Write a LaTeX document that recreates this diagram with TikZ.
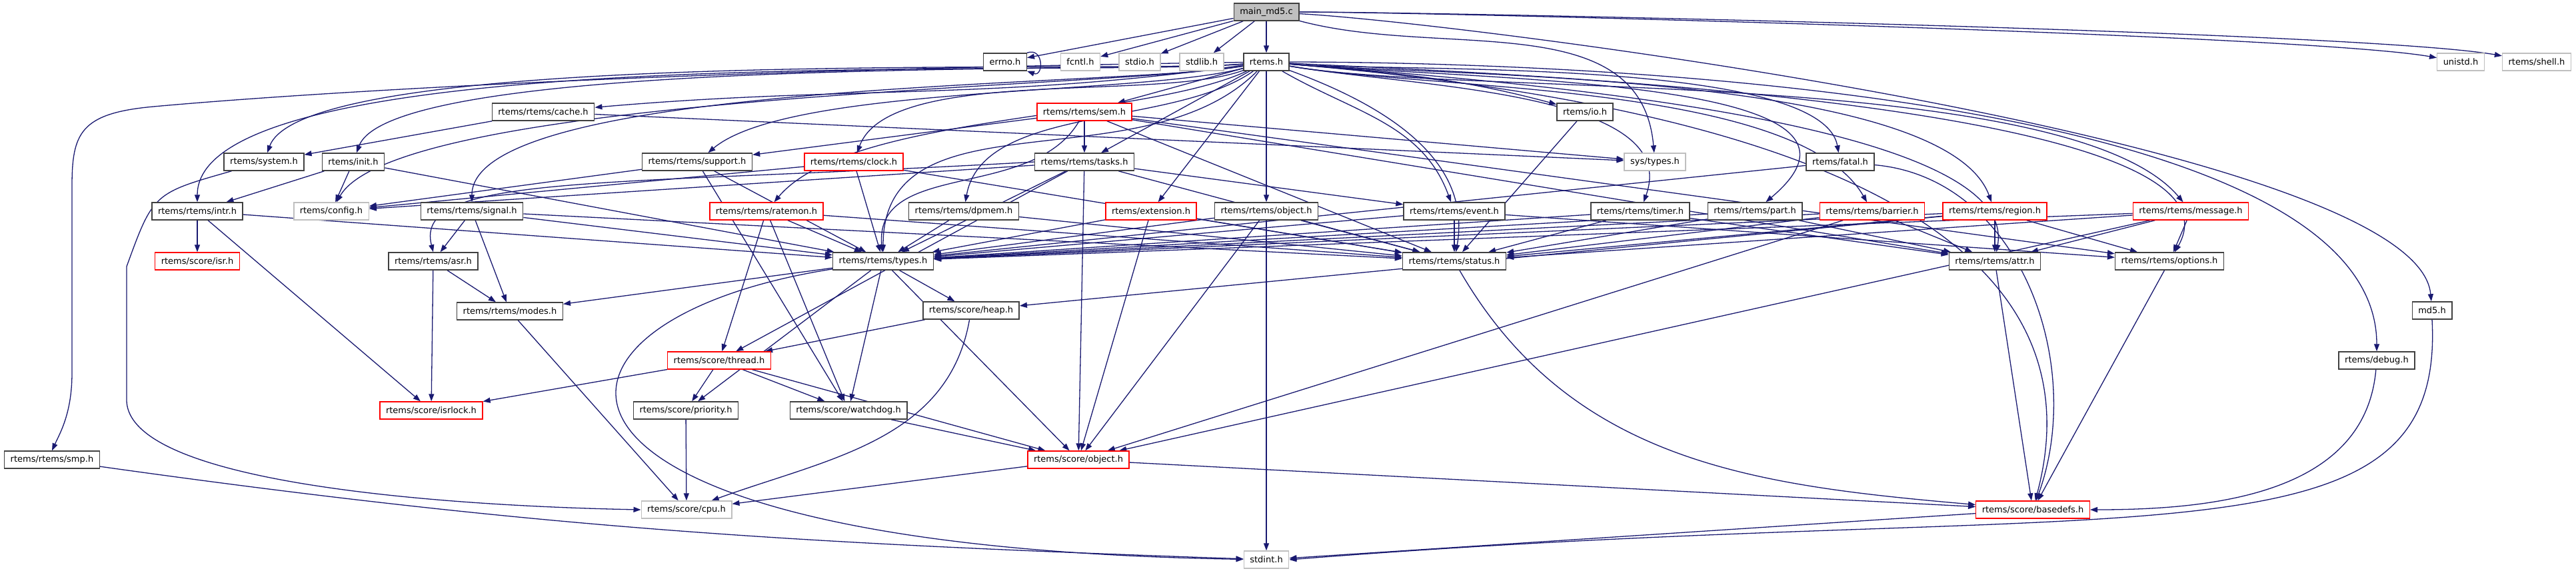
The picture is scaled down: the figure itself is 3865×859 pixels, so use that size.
\documentclass[tikz,border=0pt]{standalone}
\usepackage{fontspec}
\setmainfont{DejaVu Sans}
\usetikzlibrary{arrows.meta,positioning}
\definecolor{edgeblue}{HTML}{191970}
\pgfdeclarelayer{edges}
\pgfsetlayers{edges,main}

\begin{document}
\begin{tikzpicture}[
    x=0.2pt, y=0.2pt,
    every node/.style={rectangle, fill=white, minimum height=5.2pt, inner xsep=1.8pt, inner ysep=0.4pt, font=\fontsize{2.6}{3}\selectfont},
    hdr/.style={draw=black!75, line width=0.3pt},
    hdrred/.style={draw=red, line width=0.28pt},
    hdrgray/.style={draw=black!25, line width=0.28pt},
    hdrmain/.style={draw=black!75, fill=black!25, line width=0.3pt},
    dep/.style={draw=edgeblue, line width=0.26pt, -{Triangle[length=2.2pt,width=1.6pt]}}
]
    \useasboundingbox (0,0) rectangle (3865,-859);

    \node[hdrmain] (main) at (1900,-18) {main\_md5.c};

    \node[hdr] (errno) at (1508,-93) {errno.h};
    \node[hdrgray] (fcntl) at (1621,-93) {fcntl.h};
    \node[hdrgray] (stdio) at (1710,-93) {stdio.h};
    \node[hdrgray] (stdlib) at (1803,-93) {stdlib.h};
    \node[hdr] (rtems) at (1900,-93) {rtems.h};
    \node[hdrgray] (unistd) at (3692,-93) {unistd.h};
    \node[hdrgray] (shell) at (3806,-93) {rtems/shell.h};

    \node[hdr] (cache) at (815,-168) {rtems/rtems/cache.h};
    \node[hdrred] (sem) at (1627,-168) {rtems/rtems/sem.h};
    \node[hdr] (io) at (2378,-168) {rtems/io.h};

    \node[hdr] (system) at (396,-243) {rtems/system.h};
    \node[hdr] (init) at (530,-243) {rtems/init.h};
    \node[hdr] (support) at (1046,-243) {rtems/rtems/support.h};
    \node[hdrred] (clock) at (1281,-243) {rtems/rtems/clock.h};
    \node[hdr] (tasks) at (1627,-243) {rtems/rtems/tasks.h};
    \node[hdrgray] (systypes) at (2483,-243) {sys/types.h};
    \node[hdr] (fatal) at (2761,-243) {rtems/fatal.h};

    \node[hdr] (intr) at (296,-317) {rtems/rtems/intr.h};
    \node[hdrgray] (config) at (497,-317) {rtems/config.h};
    \node[hdr] (signal) at (708,-317) {rtems/rtems/signal.h};
    \node[hdrred] (ratemon) at (1150,-317) {rtems/rtems/ratemon.h};
    \node[hdr] (dpmem) at (1446,-317) {rtems/rtems/dpmem.h};
    \node[hdrred] (extension) at (1727,-317) {rtems/extension.h};
    \node[hdr] (object) at (1900,-317) {rtems/rtems/object.h};
    \node[hdr] (event) at (2182,-317) {rtems/rtems/event.h};
    \node[hdr] (timer) at (2461,-317) {rtems/rtems/timer.h};
    \node[hdr] (part) at (2633,-317) {rtems/rtems/part.h};
    \node[hdrred] (barrier) at (2809,-317) {rtems/rtems/barrier.h};
    \node[hdrred] (region) at (2993,-317) {rtems/rtems/region.h};
    \node[hdrred] (message) at (3287,-317) {rtems/rtems/message.h};

    \node[hdrred] (isr) at (296,-392) {rtems/score/isr.h};
    \node[hdr] (asr) at (650,-392) {rtems/rtems/asr.h};
    \node[hdr] (types) at (1325,-392) {rtems/rtems/types.h};
    \node[hdr] (status) at (2182,-392) {rtems/rtems/status.h};
    \node[hdr] (attr) at (2993,-392) {rtems/rtems/attr.h};
    \node[hdr] (options) at (3255,-392) {rtems/rtems/options.h};

    \node[hdr] (modes) at (765,-467) {rtems/rtems/modes.h};
    \node[hdr] (heap) at (1457,-466) {rtems/score/heap.h};
    \node[hdr] (md5) at (3649,-466) {md5.h};

    \node[hdrred] (thread) at (1079,-541) {rtems/score/thread.h};
    \node[hdr] (debug) at (3566,-541) {rtems/debug.h};

    \node[hdrred] (isrlock) at (647,-616) {rtems/score/isrlock.h};
    \node[hdr] (priority) at (1029,-616) {rtems/score/priority.h};
    \node[hdr] (watchdog) at (1273,-616) {rtems/score/watchdog.h};

    \node[hdr] (smp) at (78,-690) {rtems/rtems/smp.h};
    \node[hdrred] (sobject) at (1618,-690) {rtems/score/object.h};

    \node[hdrgray] (cpu) at (1030,-765) {rtems/score/cpu.h};
    \node[hdrred] (basedefs) at (3050,-765) {rtems/score/basedefs.h};

    \node[hdrgray] (stdint) at (1900,-840) {stdint.h};

    \begin{pgfonlayer}{edges}
    \foreach \hfrom/\hto in {main/errno, main/fcntl, main/stdio, main/stdlib, main/rtems,
        rtems/sem, rtems/tasks, rtems/extension, rtems/object,
        cache/system, cache/systypes, init/intr, init/config, init/types,
        intr/isr, intr/isrlock, intr/types,
        signal/asr, signal/modes, signal/types, signal/status,
        asr/modes, asr/isrlock, modes/cpu,
        support/config, support/types, support/watchdog,
        clock/config, clock/types, clock/status,
        sem/support, sem/tasks, sem/status, sem/systypes, sem/attr, sem/options,
        tasks/types, tasks/thread, tasks/sobject, tasks/event, tasks/status, tasks/config,
        ratemon/types, ratemon/thread, ratemon/watchdog, ratemon/status,
        dpmem/types, dpmem/status,
        extension/types, extension/sobject, extension/status,
        object/types, object/status, object/sobject, object/stdint,
        event/status, event/types, event/options,
        timer/status, timer/types, timer/attr,
        part/status, part/types, part/attr,
        barrier/status, barrier/types, barrier/attr, barrier/sobject,
        region/status, region/types, region/attr, region/options, region/heap,
        message/status, message/types, message/attr, message/options, message/sobject,
        fatal/types, io/status, attr/basedefs, options/basedefs,
        types/modes, types/heap, types/priority, types/watchdog, types/sobject,
        heap/thread, thread/priority, thread/watchdog, thread/sobject, thread/isrlock,
        priority/cpu, watchdog/sobject, sobject/cpu, sobject/basedefs,
        basedefs/stdint}
        \draw[dep] (\hfrom) -- (\hto);

    \foreach \hto/\hout/\hin/\hloose in {cache/188/5/1, system/185/70/0.3, init/185/70/0.3,
        intr/185/90/0.4, config/190/60/0.35, signal/190/90/0.4, support/195/40/0.5,
        clock/200/70/0.6, ratemon/205/50/0.6, dpmem/215/80/0.8, types/225/90/1,
        io/-5/165/1, fatal/-5/100/0.45, event/-30/110/1, timer/-10/70/0.8,
        part/-5/40/1, barrier/-10/120/0.6, region/-5/110/0.5, message/-10/130/0.5,
        status/-20/80/1, attr/-5/80/0.5, options/-3/60/0.5, debug/0/90/0.6,
        basedefs/-5/75/1}
        \draw[dep] (rtems) to[out=\hout, in=\hin, looseness=\hloose] (\hto);

    \foreach \hto/\hout/\hin/\hloose in {systypes/-15/95/1, unistd/0/170/0.3,
        shell/0/170/0.3, md5/-3/95/0.35}
        \draw[dep] (main) to[out=\hout, in=\hin, looseness=\hloose] (\hto);

    \draw[dep] (errno.north east) to[out=20, in=-20, looseness=2.5] (errno.south east);
    \draw[dep] (rtems) .. controls (1000,-105) and (450,-140) .. (230,-160)
        .. controls (120,-170) and (108,-200) .. (108,-280) -- (108,-560)
        .. controls (108,-620) and (90,-650) .. (smp.north);
    \draw[dep] (system) .. controls (230,-290) .. (190,-400) -- (190,-600)
        .. controls (190,-730) and (700,-760) .. (cpu.west);
    \draw[dep] (tasks.west) .. controls (900,-280) and (620,-260) .. (asr.north);
    \draw[dep] (sem) to[out=240, in=95] (types);
    \draw[dep] (types) .. controls (760,-480) and (720,-820) .. (stdint);
    \draw[dep] (heap) to[out=260, in=20] (cpu);
    \draw[dep] (smp) to[out=-8, in=178] (stdint);
    \draw[dep] (fatal) to[out=-5, in=70] (basedefs);
    \draw[dep] (status) to[out=-60, in=175] (basedefs);
    \draw[dep] (debug) to[out=-95, in=0] (basedefs);
    \draw[dep] (md5.south) .. controls (3670,-870) and (3200,-740) .. (stdint.east);
    \end{pgfonlayer}
\end{tikzpicture}
\end{document}
